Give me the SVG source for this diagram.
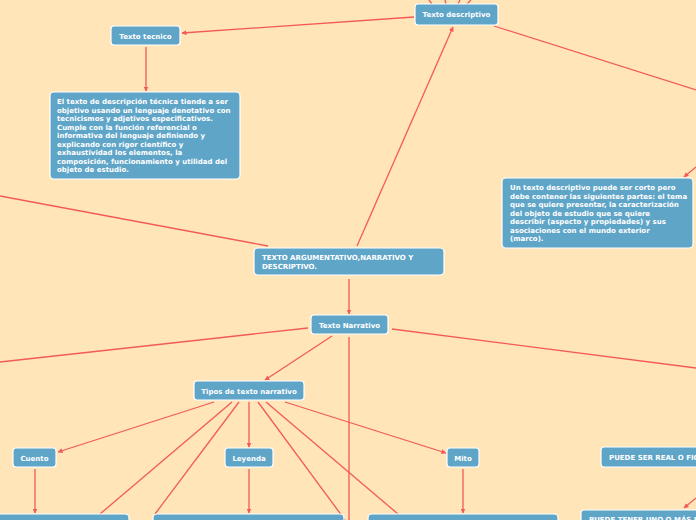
<svg xmlns="http://www.w3.org/2000/svg" width="696" height="520" viewBox="0 0 696 520">
<defs>
<marker id="ah" viewBox="0 0 10 10" refX="9" refY="5" markerWidth="5" markerHeight="5" orient="auto" markerUnits="userSpaceOnUse">
<path d="M0,0 L10,5 L0,10 z" fill="#F25A5A"/>
</marker>
<style>
.n rect{fill:#5FA5C8;stroke:#FFFFFF;stroke-width:1.2}
.n text{font-family:"DejaVu Sans",Verdana,sans-serif;font-weight:bold;font-size:7px;fill:#FFFFFF}
.c{text-anchor:middle}
#connectors line,#connectors path{stroke:#F25A5A;stroke-width:1.3;fill:none}
.a{marker-end:url(#ah)}
</style>
</defs>
<rect x="0" y="0" width="696" height="520" fill="#FFE5B8"/>
<g id="connectors">
<line x1="432" y1="4" x2="429" y2="0"/>
<line x1="446" y1="4" x2="445" y2="0"/>
<line x1="458" y1="4" x2="460" y2="0"/>
<line x1="467" y1="4" x2="471" y2="0"/>
<line x1="414" y1="17" x2="182" y2="33" class="a"/>
<line x1="146" y1="47" x2="146" y2="91" class="a"/>
<line x1="494" y1="26" x2="696" y2="90"/>
<line x1="696" y1="167" x2="684" y2="177" class="a"/>
<line x1="357" y1="246" x2="453" y2="27" class="a"/>
<line x1="268" y1="246" x2="0" y2="196"/>
<line x1="349" y1="279" x2="349" y2="314" class="a"/>
<line x1="308" y1="328" x2="0" y2="362"/>
<line x1="392" y1="329" x2="696" y2="368"/>
<line x1="332" y1="336" x2="265" y2="380" class="a"/>
<line x1="349" y1="337" x2="349" y2="520"/>
<line x1="214" y1="402" x2="58" y2="452" class="a"/>
<line x1="249" y1="402" x2="249" y2="447" class="a"/>
<line x1="285" y1="402" x2="446" y2="453" class="a"/>
<line x1="232" y1="402" x2="100" y2="514"/>
<line x1="239" y1="402" x2="155" y2="514"/>
<line x1="258" y1="402" x2="345" y2="520"/>
<line x1="266" y1="402" x2="398" y2="514"/>
<line x1="35" y1="469" x2="35" y2="513" class="a"/>
<line x1="249" y1="469" x2="249" y2="513" class="a"/>
<line x1="463" y1="469" x2="463" y2="513" class="a"/>
<line x1="696" y1="498" x2="684" y2="508" class="a"/>
</g>
<g id="texto-descriptivo" class="n"><rect x="415" y="4" width="83" height="21" rx="3"/><text x="456.5" y="17" class="c">Texto descriptivo</text></g>
<g id="texto-tecnico" class="n"><rect x="111" y="26" width="69" height="19" rx="3"/><text x="145.5" y="38.5" class="c">Texto tecnico</text></g>
<g id="desc-tecnica" class="n"><rect x="50" y="92" width="190" height="87" rx="4"/>
<text x="57" y="104">El texto de descripción técnica tiende a ser</text>
<text x="57" y="112.5">objetivo usando un lenguaje denotativo con</text>
<text x="57" y="121">tecnicismos y adjetivos especificativos.</text>
<text x="57" y="129.5">Cumple con la función referencial o</text>
<text x="57" y="138">informativa del lenguaje definiendo y</text>
<text x="57" y="146.5">explicando con rigor científico y</text>
<text x="57" y="155">exhaustividad los elementos, la</text>
<text x="57" y="163.5">composición, funcionamiento y utilidad del</text>
<text x="57" y="172">objeto de estudio.</text>
</g>
<g id="desc-partes" class="n"><rect x="502" y="178" width="191" height="70" rx="4"/>
<text x="510" y="190">Un texto descriptivo puede ser corto pero</text>
<text x="510" y="198.5">debe contener las siguientes partes: el tema</text>
<text x="510" y="207">que se quiere presentar, la caracterización</text>
<text x="510" y="215.5">del objeto de estudio que se quiere</text>
<text x="510" y="224">describir (aspecto y propiedades) y sus</text>
<text x="510" y="232.5">asociaciones con el mundo exterior</text>
<text x="510" y="241">(marco).</text>
</g>
<g id="texto-arg" class="n"><rect x="254" y="248" width="190" height="27" rx="4"/>
<text x="262" y="260">TEXTO ARGUMENTATIVO,NARRATIVO Y</text>
<text x="262" y="269">DESCRIPTIVO.</text>
</g>
<g id="texto-narrativo" class="n"><rect x="311" y="315" width="77" height="19" rx="3"/><text x="349.5" y="327.5" class="c">Texto Narrativo</text></g>
<g id="tipos" class="n"><rect x="194" y="381" width="110" height="19" rx="3"/><text x="249" y="393.5" class="c">Tipos de texto narrativo</text></g>
<g id="cuento" class="n"><rect x="13" y="448" width="43" height="19" rx="3"/><text x="34.5" y="460.5" class="c">Cuento</text></g>
<g id="leyenda" class="n"><rect x="225" y="448" width="48" height="19" rx="3"/><text x="249" y="460.5" class="c">Leyenda</text></g>
<g id="mito" class="n"><rect x="447" y="448" width="32" height="19" rx="3"/><text x="463" y="460.5" class="c">Mito</text></g>
<g id="puede-ser" class="n"><rect x="601" y="447" width="110" height="20" rx="3"/><text x="609" y="460">PUEDE SER REAL O FICTICIO</text></g>
<g id="puede-tener" class="n"><rect x="581" y="510" width="130" height="20" rx="3"/><text x="589" y="522">PUEDE TENER UNO O MÁS PERSONAJES</text></g>
<g id="box-cuento" class="n"><rect x="-5" y="514" width="134" height="20" rx="4"/></g>
<g id="box-leyenda" class="n"><rect x="153" y="514" width="191" height="20" rx="4"/></g>
<g id="box-mito" class="n"><rect x="368" y="514" width="190" height="20" rx="4"/></g>
</svg>
